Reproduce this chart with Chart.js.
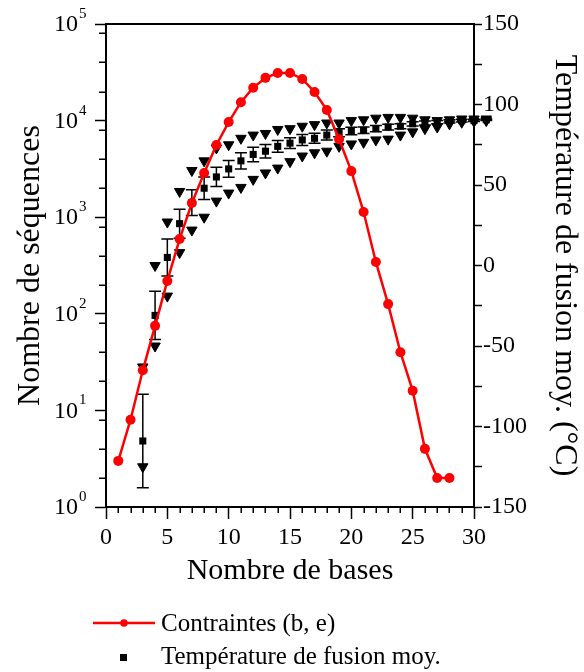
<!DOCTYPE html>
<html><head><meta charset="utf-8">
<script src="https://cdn.jsdelivr.net/npm/chart.js@4/dist/chart.umd.min.js"></script>
<style>html,body{margin:0;padding:0;background:#fff}#wrap{width:584px;height:672px}</style>
</head><body><div id="wrap"><canvas id="c" width="584" height="672"></canvas></div>
<script>
// ---- data ----
const bases = [1,2,3,4,5,6,7,8,9,10,11,12,13,14,15,16,17,18,19,20,21,22,23,24,25,26,27,28];
const sequenceCounts = [3,8,26,75,219,594,1400,2870,5590,9660,15500,21900,27700,31100,31100,27000,19800,12900,6400,3000,1130,344,126,40,16,4,2,2];

const tempBases = [3,4,5,6,7,8,9,10,11,12,13,14,15,16,17,18,19,20,21,22,23,24,25,26,27,28,29,30,31];
const tempMean  = [-109,-31,5,26,39,48,55,60,65,69,71,74,76,78,79,81,82.5,83.5,84,85,86,86.5,88,88.5,89,89.5,90,90,90.5];
const tempSd    = [29,15,11.5,9,8,7,6,5.2,5,4.5,4.2,3.6,3.4,3.4,3.1,3.1,2.5,2.3,2,2,1.8,1.5,1.3,1.2,1,1,0.8,0.6,0.5];
const tempMax   = [-63,0,27,46,59,65,73,75,79,81,82,84.5,85,86.5,87.5,88.5,88.5,90,90.5,91.5,92,92,91.5,90.5,90,90.5,91,91,91];
const tempMin   = [-125,-50,-19,8,22,30,40,45,48.5,53.5,57.5,60.5,64.5,68,70,71,74,75.5,76.5,78,78.5,81,83,85,86,88,89,89.5,90];

const xMajorTicks = [0,5,10,15,20,25,30];
const xMinorTicks = [1,2,3,4,6,7,8,9,11,12,13,14,16,17,18,19,21,22,23,24,26,27,28,29];
const countMajorTicks = [1,10,100,1000,10000,100000];
const countExponents = ['0','1','2','3','4','5'];
const countMinorTicks = [2,4,8,20,40,80,200,400,800,2000,4000,8000,20000,40000,80000];
const tempTicks = [-150,-125,-100,-75,-50,-25,0,25,50,75,100,125,150];
const legendLabels = ['Contraintes (b, e)', 'Température de fusion moy.'];

const SERIF = '"Liberation Serif", "Times New Roman", serif';
Chart.defaults.font.family = SERIF;
Chart.defaults.color = '#000';

const decor = {
  id: 'decor',
  beforeDatasetsDraw(chart) {
    const {ctx} = chart;
    const x = chart.scales.x, y2 = chart.scales.y2;
    ctx.save();
    ctx.strokeStyle = '#000';
    ctx.lineWidth = 1.5;
    tempBases.forEach((b, i) => {
      const px = x.getPixelForValue(b);
      const top = y2.getPixelForValue(tempMean[i] + tempSd[i]);
      const bot = y2.getPixelForValue(tempMean[i] - tempSd[i]);
      ctx.beginPath();
      ctx.moveTo(px, top); ctx.lineTo(px, bot);
      ctx.moveTo(px - 6, top); ctx.lineTo(px + 6, top);
      ctx.moveTo(px - 6, bot); ctx.lineTo(px + 6, bot);
      ctx.stroke();
    });
    ctx.restore();
    // the original lets the last markers run past the right axis
    chart._savedArea = chart.chartArea;
    chart.chartArea = {left: 0, top: 0, right: chart.width, bottom: chart.height, width: chart.width, height: chart.height};
  },
  afterDatasetsDraw(chart) {
    if (chart._savedArea) { chart.chartArea = chart._savedArea; chart._savedArea = null; }
  },
  afterDraw(chart) {
    const {ctx} = chart;
    const a = chart.chartArea;
    const x = chart.scales.x, y = chart.scales.y;
    ctx.save();
    ctx.strokeStyle = '#000';
    // top frame
    ctx.lineWidth = 2;
    ctx.beginPath(); ctx.moveTo(a.left - 1, a.top); ctx.lineTo(a.right + 1, a.top); ctx.stroke();
    // minor ticks
    ctx.lineWidth = 1.5;
    ctx.beginPath();
    xMinorTicks.forEach(v => { const px = Math.round(x.getPixelForValue(v)) + 0.25; ctx.moveTo(px, a.bottom); ctx.lineTo(px, a.bottom + 6); });
    countMinorTicks.forEach(v => { const py = Math.round(y.getPixelForValue(v)) + 0.25; ctx.moveTo(a.left - 7, py); ctx.lineTo(a.left, py); });
    ctx.stroke();
    // log labels with superscript exponents
    ctx.fillStyle = '#000';
    countMajorTicks.forEach((v, i) => {
      const py = y.getPixelForValue(v);
      ctx.font = '24px ' + SERIF;
      ctx.textAlign = 'right'; ctx.textBaseline = 'middle';
      ctx.fillText('10', 78, py + 1);
      ctx.font = '15px ' + SERIF;
      ctx.textAlign = 'left'; ctx.textBaseline = 'alphabetic';
      ctx.fillText(countExponents[i], 79, py - 6);
    });
    // legend
    const ds0 = chart.data.datasets[0], ds1 = chart.data.datasets[1];
    ctx.strokeStyle = ds0.borderColor; ctx.lineWidth = 2.5;
    ctx.beginPath(); ctx.moveTo(93, 623); ctx.lineTo(155, 623); ctx.stroke();
    ctx.fillStyle = ds0.backgroundColor;
    ctx.beginPath(); ctx.arc(124, 623, 3.8, 0, Math.PI * 2); ctx.fill();
    ctx.fillStyle = ds1.backgroundColor;
    ctx.fillRect(120, 654, 7, 7);
    ctx.fillStyle = '#000';
    ctx.font = '25px ' + SERIF;
    ctx.textAlign = 'left'; ctx.textBaseline = 'middle';
    ctx.fillText(legendLabels[0], 161, 624);
    ctx.fillText(legendLabels[1], 161, 657);
    ctx.restore();
  }
};

function zeroPad(s) { s.paddingLeft = 0; s.paddingRight = 0; s.paddingTop = 0; s.paddingBottom = 0; }

new Chart(document.getElementById('c'), {
  type: 'line',
  data: {
    datasets: [
      {
        label: legendLabels[0],
        data: bases.map((b, i) => ({x: b, y: sequenceCounts[i]})),
        yAxisID: 'y',
        borderColor: '#ff0000', backgroundColor: '#ff0000',
        borderWidth: 2.5, tension: 0,
        pointStyle: 'circle', pointRadius: 5, pointBorderWidth: 0,
        pointBackgroundColor: '#ff0000',
        clip: false
      },
      {
        label: legendLabels[1],
        data: tempBases.map((b, i) => ({x: b, y: tempMean[i]})),
        yAxisID: 'y2', showLine: false,
        borderColor: '#000', backgroundColor: '#000',
        pointStyle: 'rect', pointRadius: 5, pointBorderWidth: 0,
        clip: false
      },
      {
        label: 'max',
        data: tempBases.map((b, i) => ({x: b, y: tempMax[i]})),
        yAxisID: 'y2', showLine: false,
        borderColor: '#000', backgroundColor: '#000',
        pointStyle: 'triangle', pointRotation: 180, pointRadius: 6, pointBorderWidth: 1,
        clip: false
      },
      {
        label: 'min',
        data: tempBases.map((b, i) => ({x: b, y: tempMin[i]})),
        yAxisID: 'y2', showLine: false,
        borderColor: '#000', backgroundColor: '#000',
        pointStyle: 'triangle', pointRotation: 180, pointRadius: 6, pointBorderWidth: 1,
        clip: false
      }
    ]
  },
  options: {
    responsive: false,
    animation: false,
    devicePixelRatio: 1,
    layout: {padding: {left: 0, right: 0, top: 24, bottom: 83}},
    plugins: {legend: {display: false}, tooltip: {enabled: false}},
    scales: {
      x: {
        type: 'linear', position: 'bottom', bounds: 'data',
        afterDataLimits(s) { s.min = 0; s.max = 30; },
        afterBuildTicks(s) { s.ticks = xMajorTicks.map(v => ({value: v})); },
        afterFit(s) { s.height = 82; zeroPad(s); },
        grid: {drawOnChartArea: false, tickLength: 12, tickWidth: 1.5, tickColor: '#000'},
        border: {display: true, width: 2, color: '#000'},
        ticks: {autoSkip: false, maxRotation: 0, padding: 4, font: {size: 24}, color: '#000', callback: v => String(v)},
        title: {display: true, text: 'Nombre de bases', font: {size: 30}, color: '#000', padding: {top: 0, bottom: 0}}
      },
      y: {
        type: 'logarithmic', position: 'left', min: 1, max: 100000,
        afterBuildTicks(s) { s.ticks = countMajorTicks.map(v => ({value: v})); },
        afterFit(s) { s.width = 106; zeroPad(s); },
        grid: {drawOnChartArea: false, tickLength: 11, tickWidth: 1.5, tickColor: '#000'},
        border: {display: true, width: 2, color: '#000'},
        ticks: {autoSkip: false, padding: 10, font: {size: 24}, callback: () => ''},
        title: {display: true, text: 'Nombre de séquences', font: {size: 32}, color: '#000', padding: {top: 11, bottom: 0}}
      },
      y2: {
        type: 'linear', position: 'right', min: -150, max: 150,
        afterBuildTicks(s) { s.ticks = tempTicks.map(v => ({value: v})); },
        afterFit(s) { s.width = 110; zeroPad(s); },
        grid: {drawOnChartArea: false, tickLength: 8, tickWidth: 1.5, tickColor: '#000'},
        border: {display: true, width: 2, color: '#000'},
        ticks: {autoSkip: false, padding: 1, font: {size: 24}, color: '#000', callback: v => (v % 50 === 0 ? String(v) : '')},
        title: {display: true, text: 'Température de fusion moy. (°C)', font: {size: 32}, color: '#000', padding: {top: 0, bottom: 0}}
      }
    }
  },
  plugins: [decor]
});
</script>
</body></html>
